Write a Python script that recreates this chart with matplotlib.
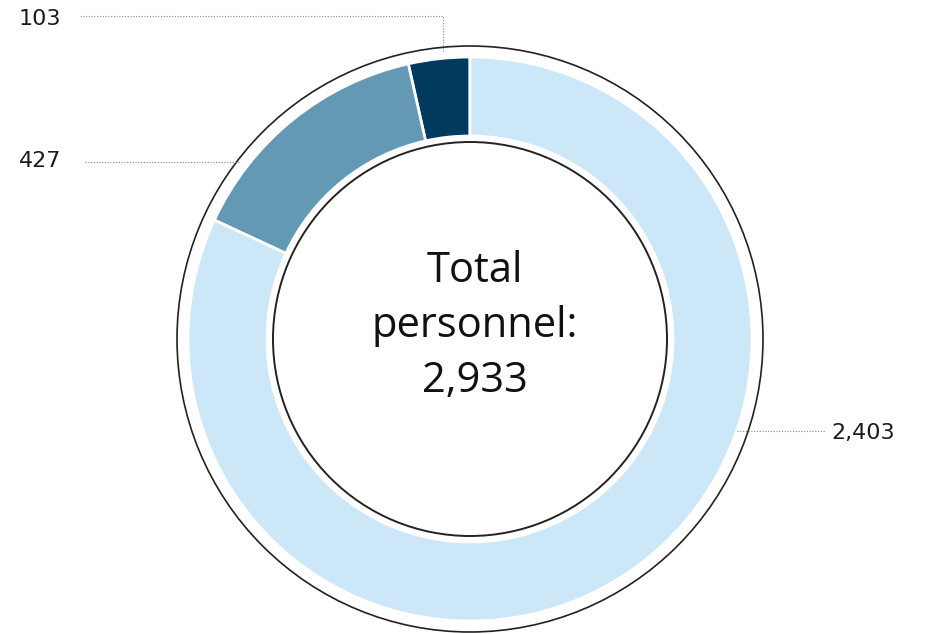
import matplotlib.pyplot as plt
from matplotlib.patches import Circle

# data (counter-clockwise from 12 o'clock)
labels = ['103', '427', '2,403']
values = [103, 427, 2403]
colors = ['#003b5f', '#6399b4', '#cbe7f8']
total_text = 'Total\npersonnel:\n2,933'

W, H = 926, 634
fig = plt.figure(figsize=(W / 100, H / 100), dpi=100)
ax = fig.add_axes([0, 0, 1, 1])

cx, cy = 470, H - 339
r_out = 282
r_in = 203

ax.pie(values, colors=colors, startangle=90, counterclock=True,
       center=(cx, cy), radius=r_out, frame=True,
       wedgeprops=dict(width=r_out - r_in, edgecolor='white', linewidth=2))
ax.set_xlim(0, W)
ax.set_ylim(0, H)
ax.set_aspect('equal')
ax.axis('off')

# thin rings
ax.add_patch(Circle((cx, cy), 293, fill=False, edgecolor='#222222', lw=1.2))
ax.add_patch(Circle((cx, cy), 197, fill=False, edgecolor='#222222', lw=1.4))

# centre text
ax.text(cx + 5, H - 326, total_text, ha='center', va='center',
        fontsize=30, family='Open Sans', linespacing=1.42, color='#111111')

# callouts
lab_font = dict(fontsize=16, family='DejaVu Sans', color='#1a1a1a',
                va='center')
dot = dict(color='#888888', lw=0.8, linestyle=(0, (1, 1.5)))

ax.text(19, H - 19, labels[0], ha='left', **lab_font)
ax.plot([80, 443, 443], [H - 16, H - 16, H - 52], **dot)

ax.text(19, H - 161, labels[1], ha='left', **lab_font)
ax.plot([85, 240], [H - 162, H - 162], **dot)

ax.text(831, H - 433, labels[2], ha='left', **lab_font)
ax.plot([737, 826], [H - 431, H - 431], **dot)

fig.savefig('out.png', dpi=100)
